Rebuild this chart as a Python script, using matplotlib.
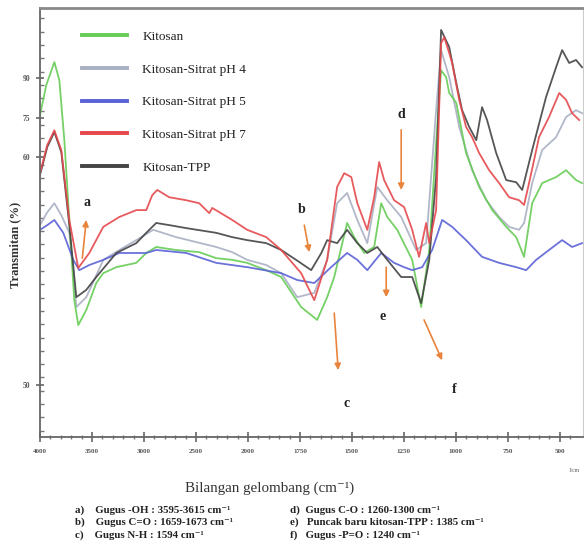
import numpy as np
import matplotlib
matplotlib.use("Agg")
import matplotlib.pyplot as plt
from matplotlib.lines import Line2D

# ---------------- data (wavenumber cm-1, transmittance units) ----------------
kit_w = [4000, 3939, 3862, 3814, 3766, 3718, 3670, 3632, 3555, 3459, 3391, 3266, 3074, 2978, 2882, 2690, 2469, 2305, 2151, 2007,
         1912, 1840, 1744, 1667, 1619, 1585, 1523, 1489, 1441, 1393, 1359, 1330, 1282, 1210, 1167, 1128, 1095, 1071, 1047, 1032,
         998, 951, 888, 825, 758, 710, 672, 633, 585, 518, 470, 422, 393]
kit_t = [75.1, 82.1, 87.4, 83.2, 69.2, 50.6, 31.9, 26.1, 29.6, 35.9, 38.2, 39.6, 40.6, 42.9, 44.3, 43.6, 43.1, 41.7, 41.3, 40.6,
         38.9, 37.3, 30.3, 27.3, 32.6, 37.3, 49.9, 46.6, 42.9, 44.3, 54.5, 51.3, 48.3, 41.3, 30.3, 43.6, 68.5, 85.5, 83.9, 80.2,
         77.9, 66.2, 58.3, 52.9, 49.0, 46.6, 42.0, 54.5, 59.2, 60.6, 62.2, 59.9, 59.2]

ph4_w = [4000, 3930, 3862, 3795, 3718, 3680, 3651, 3555, 3391, 3237, 3074, 2911, 2690, 2305, 2151, 2007, 1912, 1840, 1763, 1681,
         1619, 1571, 1523, 1474, 1426, 1378, 1330, 1263, 1191, 1143, 1095, 1071, 1032, 984, 922, 854, 792, 744, 696, 672,
         633, 585, 518, 470, 422, 393]
ph4_t = [49.4, 52.4, 54.5, 51.7, 47.6, 38.9, 30.3, 32.6, 41.3, 43.6, 45.9, 48.3, 46.6, 44.3, 43.1, 41.3, 40.1, 38.2, 32.6, 33.6,
         41.3, 54.5, 56.9, 50.6, 45.2, 58.3, 55.2, 51.3, 43.6, 45.2, 76.2, 90.2, 83.9, 72.3, 62.2, 55.2, 51.3, 49.0, 48.3, 49.9,
         59.2, 66.9, 69.9, 74.6, 76.2, 75.5]

ph5_w = [4000, 3930, 3862, 3776, 3680, 3622, 3526, 3391, 3237, 2978, 2882, 2593, 2305, 2007, 1840, 1763, 1681, 1600, 1523, 1474,
         1426, 1359, 1297, 1249, 1210, 1162, 1114, 1066, 1018, 951, 874, 792, 710, 662, 614, 552, 489, 441, 393]
ph5_t = [48.3, 49.4, 50.6, 47.6, 41.3, 38.9, 40.1, 41.3, 42.9, 42.9, 43.6, 42.9, 40.6, 39.6, 38.2, 36.6, 35.9, 39.6, 42.9, 41.3,
         38.9, 42.9, 40.6, 39.6, 38.9, 39.6, 43.6, 50.6, 49.0, 45.9, 42.0, 40.6, 39.6, 38.9, 41.3, 43.6, 45.9, 44.3, 45.2]

ph7_w = [4000, 3930, 3862, 3795, 3718, 3632, 3526, 3391, 3237, 3074, 2978, 2920, 2872, 2757, 2593, 2469, 2372, 2343, 2151, 2007,
         1912, 1840, 1744, 1681, 1619, 1571, 1537, 1503, 1474, 1426, 1393, 1369, 1345, 1297, 1249, 1210, 1177, 1143, 1128, 1095,
         1071, 1056, 1032, 1018, 984, 951, 922, 888, 840, 792, 744, 696, 672, 648, 600, 552, 503, 470, 441, 407]
ph7_t = [61.5, 68.1, 71.5, 66.9, 50.6, 39.4, 42.9, 49.0, 51.3, 52.9, 52.9, 56.4, 57.6, 55.9, 55.2, 54.5, 52.2, 53.4, 50.6, 48.3,
         46.6, 43.6, 38.2, 31.9, 41.3, 58.3, 61.5, 60.6, 54.5, 48.3, 55.9, 64.1, 59.9, 55.2, 53.6, 48.3, 42.0, 49.9, 45.2, 52.9,
         91.8, 93.2, 89.5, 87.2, 78.6, 72.3, 69.9, 66.2, 62.2, 59.2, 55.9, 55.2, 54.1, 59.2, 69.9, 74.6, 80.2, 78.6, 75.5, 73.9]

tpp_w = [4000, 3930, 3862, 3795, 3718, 3651, 3555, 3459, 3266, 3074, 2978, 2882, 2757, 2593, 2305, 2151, 2007, 1912, 1840, 1753,
         1696, 1647, 1619, 1571, 1523, 1474, 1426, 1378, 1330, 1263, 1210, 1167, 1128, 1095, 1071, 1032, 998, 970, 936, 902,
         874, 850, 806, 758, 710, 681, 633, 566, 518, 489, 455, 422, 393]
tpp_t = [61.1, 67.6, 71.1, 66.4, 49.4, 32.6, 34.3, 37.3, 42.9, 45.2, 47.6, 49.9, 49.4, 48.7, 47.6, 46.6, 45.9, 45.2, 43.6, 40.8,
         38.9, 42.9, 45.9, 45.2, 48.3, 45.2, 42.9, 44.3, 41.3, 37.3, 37.3, 31.2, 41.3, 60.6, 94.9, 90.9, 82.5, 76.2, 72.3, 69.2,
         76.9, 73.9, 66.2, 59.9, 59.4, 57.6, 66.9, 79.3, 86.2, 90.2, 87.2, 87.9, 86.2]

series_names = ["Kitosan", "Kitosan-Sitrat pH 4", "Kitosan-Sitrat pH 5", "Kitosan-Sitrat pH 7", "Kitosan-TPP"]
series_colors = ["#66cc55", "#a9b0c4", "#5a62d6", "#e5484c", "#444444"]

x_ticks = [4000, 3500, 3000, 2500, 2000, 1750, 1500, 1250, 1000, 750, 500]
x_tick_labels = ["4000", "3500", "3000", "2500", "2000", "1750", "1500", "1250", "1000", "750", "500"]
y_ticks = [83.7, 74.4, 65.3, 12.1]
y_tick_labels = ["90", "75", "60", "50"]

# annotations: letter, arrow tail (w,t), arrow head (w,t), letter pos (w,t)
annots = [
    ("a", (3593, 41.7), (3555, 50.6), (3545, 54.6)),
    ("b", (1729, 49.4), (1705, 43.1), (1741, 53.0)),
    ("c", (1585, 28.9), (1566, 15.6), (1527, 7.9)),
    ("d", (1263, 71.6), (1263, 57.6), (1263, 75.3)),
    ("e", (1335, 39.6), (1335, 32.6), (1350, 28.0)),
    ("f", (1153, 27.3), (1066, 17.9), (1008, 11.0)),
]

notes_left = ["a)    Gugus -OH : 3595-3615 cm⁻¹",
              "b)    Gugus C=O : 1659-1673 cm⁻¹",
              "c)    Gugus N-H : 1594 cm⁻¹"]
notes_right = ["d)  Gugus C-O : 1260-1300 cm⁻¹",
               "e)   Puncak baru kitosan-TPP : 1385 cm⁻¹",
               "f)   Gugus -P=O : 1240 cm⁻¹"]

# ---------------- plotting ----------------
def fwd(w):
    w = np.asarray(w, dtype=float)
    return np.where(w <= 2000, w, 2000 + (w - 2000) / 2.0)

def inv(p):
    p = np.asarray(p, dtype=float)
    return np.where(p <= 2000, p, 2000 + 2.0 * (p - 2000))

plt.rcParams['font.family'] = ['Liberation Serif', 'DejaVu Serif']
plt.rcParams['mathtext.fontset'] = 'stix'

fig = plt.figure(figsize=(5.84, 5.6), dpi=100)
ax = fig.add_axes([0.0685, 0.2196, 0.93, 0.766])
ax.set_xscale('function', functions=(fwd, inv))

data = [(kit_w, kit_t), (ph4_w, ph4_t), (ph5_w, ph5_t), (ph7_w, ph7_t), (tpp_w, tpp_t)]
draw_order = [1, 0, 2, 4, 3]
for i in draw_order:
    w, t = data[i]
    ax.plot(w, t, color=series_colors[i], lw=1.3, alpha=0.9)

ax.set_xlim(4000, 388)
ax.set_ylim(0, 100)

ax.set_xticks(x_ticks)
ax.set_xticklabels(x_tick_labels, fontsize=5, fontweight='bold', color='#555555')
minor_x = list(range(3900, 2000, -100)) + list(range(1950, 400, -50))
ax.set_xticks([m for m in minor_x if m not in x_ticks], minor=True)
ax.set_yticks(y_ticks)
ax.set_yticklabels(y_tick_labels, fontsize=5.5, fontweight='bold', color='#555555')
ax.set_yticks(np.arange(1.5, 100, 3.1), minor=True)
ax.tick_params(axis='both', which='major', length=5, width=1.2, color='#666666', pad=5)
ax.tick_params(axis='both', which='minor', length=3, width=1.0, color='#777777')
ax.tick_params(axis='y', which='both', direction='in')
ax.tick_params(axis='y', which='major', direction='inout', length=6, pad=4)
ax.tick_params(axis='x', which='both', direction='inout')
ax.tick_params(axis='x', which='major', length=7)

for s in ['left', 'bottom']:
    ax.spines[s].set_color('#666666')
    ax.spines[s].set_linewidth(1.3)
ax.spines['top'].set_color('#8a8a8a')
ax.spines['top'].set_linewidth(2.0)
ax.spines['right'].set_color('#cccccc')
ax.spines['right'].set_linewidth(0.8)

fig.text(15 / 584, 1 - 245 / 560, "Transmitan (%)", rotation=90, fontsize=9, fontweight='bold',
         color='#333333', ha='center', va='center')
fig.text(270 / 584, 1 - 488 / 560, "Bilangan gelombang (cm⁻¹)", fontsize=10.8, color='#333333',
         ha='center', va='center')
fig.text(0.982, 1 - 470 / 560, "1/cm", fontsize=4, color='#555555', ha='center', va='center')

handles = [Line2D([0], [0], color=c, lw=2.8) for c in series_colors]
leg = ax.legend(handles, series_names, loc='upper left', bbox_to_anchor=(0.055, 0.975),
                frameon=False, fontsize=9.5, handlelength=3.4, handletextpad=1.2,
                labelspacing=1.55)
for txt in leg.get_texts():
    txt.set_color('#222222')

arrow_color = '#e8843c'
for letter, tail, head, lpos in annots:
    ax.annotate("", xy=head, xytext=tail,
                arrowprops=dict(arrowstyle='-|>', color=arrow_color, lw=1.2,
                                mutation_scale=9, shrinkA=0, shrinkB=0))
    ax.text(lpos[0], lpos[1], letter, fontsize=10, fontweight='bold', color='#222222',
            ha='center', va='center')

note_y = [1 - 510 / 560, 1 - 522.5 / 560, 1 - 535 / 560]
for k, s in enumerate(notes_left):
    fig.text(75 / 584, note_y[k], s, fontsize=7.8, fontweight='bold', color='#222222', va='center')
for k, s in enumerate(notes_right):
    fig.text(290 / 584, note_y[k], s, fontsize=7.8, fontweight='bold', color='#222222', va='center')

fig.savefig("out.png", dpi=100)
